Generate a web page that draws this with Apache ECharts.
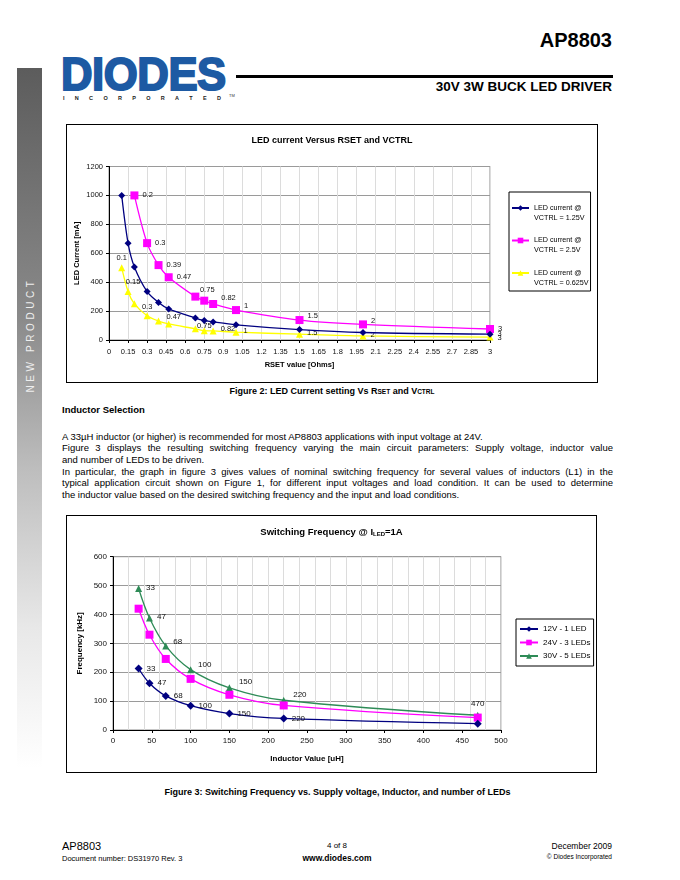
<!DOCTYPE html>
<html><head><meta charset="utf-8">
<script src="https://cdn.jsdelivr.net/npm/echarts@6/dist/echarts.min.js"></script>
<style>
body{margin:0;background:#fff;font-family:'Liberation Sans',Arial,sans-serif;color:#000;}
#page{position:relative;width:680px;height:880px;overflow:hidden;background:#fff;}
.abs{position:absolute;white-space:nowrap;}
.frame{position:absolute;border:1px solid #000;box-sizing:border-box;}
.line{position:absolute;left:62px;width:551px;white-space:nowrap;font-size:9.5px;line-height:11.6px;height:11.6px;}
.just{text-align:justify;text-align-last:justify;}
</style></head><body>
<div id="page">
  <!-- side bar -->
  <div class="abs" style="left:17px;top:68px;width:25px;height:812px;background:linear-gradient(#5c5c5c 0px,#8a8a8a 250px,#bdbdbd 400px,#e8e8e8 560px,#ffffff 700px);"></div>
  <div class="abs" style="left:30px;top:335px;transform:translate(-50%,-50%) rotate(-90deg);color:#eeeeee;font-size:10px;letter-spacing:3.6px;">NEW PRODUCT</div>

  <!-- logo -->
  <div class="abs" style="left:61px;top:46px;font-size:47px;font-weight:bold;color:#1d5aa3;transform-origin:0 0;transform:scaleX(0.93);letter-spacing:-0.5px;line-height:56px;-webkit-text-stroke:2px #1d5aa3;">DIODES</div>
  <div class="abs" style="left:63px;top:95px;width:158px;display:flex;justify-content:space-between;font-size:5.5px;font-weight:bold;color:#222;"><span>I</span><span>N</span><span>C</span><span>O</span><span>R</span><span>P</span><span>O</span><span>R</span><span>A</span><span>T</span><span>E</span><span>D</span></div>
  <div class="abs" style="left:229px;top:93px;font-size:4px;color:#333;">TM</div>

  <!-- header -->
  <div class="abs" style="right:68px;top:28px;font-size:20px;font-weight:bold;line-height:24px;">AP8803</div>
  <div class="abs" style="left:236px;top:75px;width:377px;height:3px;background:#000;"></div>
  <div class="abs" style="right:68px;top:79px;font-size:13.5px;font-weight:bold;line-height:16px;">30V 3W BUCK LED DRIVER</div>

  <!-- chart 1 -->
  <div class="frame" style="left:66px;top:124px;width:532px;height:259px;"></div>
  <div id="c1" class="abs" style="left:67px;top:125px;width:530px;height:257px;"></div>
  <div class="abs" style="left:332px;top:391px;transform:translate(-50%,-50%);font-size:9px;font-weight:bold;">Figure 2: LED Current setting Vs R<span style="font-size:6.5px">SET</span> and V<span style="font-size:6.5px">CTRL</span></div>

  <div class="abs" style="left:62px;top:404px;font-size:9.5px;font-weight:bold;line-height:12px;">Inductor Selection</div>
  <div class="line" style="top:430.7px;">A 33µH inductor (or higher) is recommended for most AP8803 applications with input voltage at 24V.</div>
  <div class="line just" style="top:442.3px;">Figure 3 displays the resulting switching frequency varying the main circuit parameters: Supply voltage, inductor value</div>
  <div class="line" style="top:453.9px;">and number of LEDs to be driven.</div>
  <div class="line just" style="top:465.5px;">In particular, the graph in figure 3 gives values of nominal switching frequency for several values of inductors (L1) in the</div>
  <div class="line just" style="top:477.1px;">typical application circuit shown on Figure 1, for different input voltages and load condition. It can be used to determine</div>
  <div class="line" style="top:488.7px;">the inductor value based on the desired switching frequency and the input and load conditions.</div>

  <!-- chart 2 -->
  <div class="frame" style="left:66px;top:515px;width:531px;height:258px;"></div>
  <div id="c2" class="abs" style="left:67px;top:516px;width:529px;height:256px;"></div>
  <div class="abs" style="left:337.5px;top:792px;transform:translate(-50%,-50%);font-size:9px;font-weight:bold;">Figure 3: Switching Frequency vs. Supply voltage, Inductor, and number of LEDs</div>

  <!-- footer -->
  <div class="abs" style="left:62px;top:839px;font-size:11px;line-height:14px;">AP8803</div>
  <div class="abs" style="left:62px;top:854px;font-size:7.5px;line-height:9px;">Document number: DS31970 Rev. 3</div>
  <div class="abs" style="left:337px;top:845px;transform:translate(-50%,-50%);font-size:8px;">4 of 8</div>
  <div class="abs" style="left:337px;top:858px;transform:translate(-50%,-50%);font-size:8.5px;font-weight:bold;">www.diodes.com</div>
  <div class="abs" style="right:68px;top:841px;font-size:8.5px;line-height:11px;">December 2009</div>
  <div class="abs" style="right:68px;top:853px;font-size:6.5px;line-height:8px;">© Diodes Incorporated</div>
</div>
<script>
// ---------- Chart 1 data: LED current vs RSET ----------
const rsetA = [0.1, 0.15, 0.2, 0.3, 0.39, 0.47, 0.68, 0.75, 0.82, 1, 1.5, 2, 3];
const rsetB = [0.2, 0.3, 0.39, 0.47, 0.68, 0.75, 0.82, 1, 1.5, 2, 3];
const ledNavy = [1000, 670, 505, 335, 260, 215, 152, 135, 125, 105, 72, 52, 40];
const ledPink = [1000, 670, 518, 434, 300, 272, 249, 207, 138, 108, 76];
const ledYellow = [500, 335, 250, 168, 131, 111, 77, 64, 63, 54, 40, 28, 20];
const lblNavy = ['', '', '', '', '', '', '', '', '', '', '', '', '3'];
const lblPink = ['0.2', '0.3', '0.39', '0.47', '', '0.75', '0.82', '1', '1.5', '2', '3'];
const lblYellow = ['0.1', '0.15', '', '0.3', '', '0.47', '', '0.75', '0.82', '1', '1.5', '2', '3'];
const names1 = ['LED current @ VCTRL = 1.25V', 'LED current @ VCTRL = 2.5V', 'LED current @ VCTRL = 0.625V'];
const yTicks1 = [0, 200, 400, 600, 800, 1000, 1200];

// ---------- Chart 2 data: switching frequency vs inductor ----------
const inductor = [33, 47, 68, 100, 150, 220, 470];
const f12V = [213, 162, 118, 84, 57, 40, 22];
const f24V = [420, 330, 246, 177, 122, 85, 43];
const f30V = [490, 388, 291, 209, 146, 103, 51];
const lbl12V = ['33', '47', '68', '100', '150', '220', ''];
const lbl30V = ['33', '47', '68', '100', '150', '220', '470'];
const names2 = ['12V - 1 LED', '24V - 3 LEDs', '30V - 5 LEDs'];

const FONT = "'Liberation Sans', Arial, sans-serif";

// label placement styles (kept apart from data)
const posPink = ['right','right','right','right','right','top','right','right','right','right','right'];
const offPink = [[0,0],[0,0],[0,0],[0,0],[0,0],[3,1],[0,-6],[0,-4],[0,-4],[0,-3],[0,0]];
const posYellow = ['top','top','top','top','top','top','top','top','right','right','right','right','right'];
const offYellow = [[0,2],[5,2],[0,0],[0,3],[0,0],[5,4],[0,0],[0,7],[0,-2],[0,-1],[0,-1],[0,-1],[0,1]];

function build(xs, ys, labels, pos, off, fs) {
  return xs.map((x, i) => {
    const t = labels ? labels[i] : '';
    return {
      value: [x, ys[i]],
      label: t ? {show: true, formatter: t, position: pos ? pos[i] : 'right', offset: off ? off[i] : [0, 0],
                  fontSize: fs, color: '#111', fontFamily: FONT, distance: 4} : {show: false}
    };
  });
}

const c1 = echarts.init(document.getElementById('c1'));
c1.setOption({
  animation: false,
  title: {text: 'LED current Versus RSET and VCTRL', left: 'center', top: 6,
          textStyle: {fontSize: 9, fontWeight: 'bold', fontFamily: FONT, color: '#000'}},
  grid: {left: 42, top: 41.5, width: 381, height: 173.5, show: true, borderColor: '#8c8c8c', borderWidth: 1,
         backgroundColor: '#fff', containLabel: false, outerBoundsMode: 'none'},
  legend: {
    orient: 'vertical', left: 442, top: 67, padding: [1, 2, 3, 2], itemGap: 2.5,
    itemWidth: 17, itemHeight: 7, borderColor: '#000', borderWidth: 1,
    textStyle: {fontSize: 7.2, lineHeight: 10, color: '#000', fontFamily: FONT},
    formatter: n => ' \n' + n.replace(' VCTRL', '\nVCTRL'),
    data: names1
  },
  xAxis: {
    type: 'value', min: 0, max: 3, interval: 0.15,
    name: 'RSET value [Ohms]', nameLocation: 'middle', nameGap: 21,
    nameTextStyle: {fontSize: 7.5, fontWeight: 'bold', fontFamily: FONT, color: '#000'},
    axisLine: {lineStyle: {color: '#000', width: 1}},
    axisTick: {show: true, length: 3, lineStyle: {color: '#000'}},
    axisLabel: {fontSize: 7.5, color: '#111', fontFamily: FONT, margin: 8, formatter: v => String(Math.round(v * 100) / 100)},
    splitLine: {show: true, lineStyle: {color: '#dcdcdc', width: 1}}
  },
  yAxis: {
    type: 'value', min: 0, max: 1200, interval: 200,
    name: 'LED Current [mA]', nameLocation: 'middle', nameGap: 28, nameMoveOverlap: false,
    nameTextStyle: {fontSize: 7.5, fontWeight: 'bold', fontFamily: FONT, color: '#000'},
    axisLine: {show: true, lineStyle: {color: '#000', width: 1}},
    axisTick: {show: true, length: 3, lineStyle: {color: '#000'}},
    axisLabel: {fontSize: 7.5, color: '#111', fontFamily: FONT, margin: 6, formatter: v => yTicks1.includes(v) ? String(v) : ''},
    splitLine: {show: true, lineStyle: {color: '#9a9a9a', width: 1}}
  },
  series: [
    {name: names1[0], type: 'line', smooth: 0.3, symbol: 'diamond', symbolSize: 7,
     itemStyle: {color: '#000080'}, lineStyle: {color: '#000080', width: 1.3},
     data: build(rsetA, ledNavy, lblNavy, null, null, 7.5), z: 3},
    {name: names1[1], type: 'line', smooth: 0.3, symbol: 'rect', symbolSize: 8,
     itemStyle: {color: '#ff00ff'}, lineStyle: {color: '#ff00ff', width: 1.3},
     data: build(rsetB, ledPink, lblPink, posPink, offPink, 7.5), z: 2},
    {name: names1[2], type: 'line', smooth: 0.3, symbol: 'triangle', symbolSize: 7,
     itemStyle: {color: '#ffff00'}, lineStyle: {color: '#ffff00', width: 1.3},
     data: build(rsetA, ledYellow, lblYellow, posYellow, offYellow, 7.5), z: 1}
  ]
});

const c2 = echarts.init(document.getElementById('c2'));
c2.setOption({
  animation: false,
  title: {text: 'Switching Frequency @ I{s|LED}=1A', left: 'center', top: 6,
          textStyle: {fontSize: 9.5, fontWeight: 'bold', fontFamily: FONT, color: '#000',
                      rich: {s: {fontSize: 6, fontWeight: 'bold', fontFamily: FONT, color: '#000', verticalAlign: 'bottom', padding: [3, 0, 0, 0]}}}},
  grid: {left: 46, top: 40.7, width: 388, height: 173.3, show: true, borderColor: '#8c8c8c', borderWidth: 1,
         backgroundColor: '#fff', containLabel: false, outerBoundsMode: 'none'},
  legend: {
    orient: 'vertical', left: 449, top: 103, padding: [6, 3, 6, 3], itemGap: 5.5,
    itemWidth: 18, itemHeight: 7, borderColor: '#000', borderWidth: 1,
    textStyle: {fontSize: 8, color: '#000', fontFamily: FONT},
    data: names2
  },
  xAxis: [{
    type: 'value', min: 0, max: 500, interval: 50,
    name: 'Inductor Value [uH]', nameLocation: 'middle', nameGap: 25,
    nameTextStyle: {fontSize: 8, fontWeight: 'bold', fontFamily: FONT, color: '#000'},
    axisLine: {lineStyle: {color: '#000', width: 1}},
    axisTick: {show: true, length: 3, lineStyle: {color: '#000'}},
    axisLabel: {fontSize: 8, color: '#111', fontFamily: FONT, margin: 7},
    splitLine: {show: false}
  }, {
    type: 'value', min: 0, max: 500, interval: 20, position: 'top',
    axisLine: {show: false}, axisTick: {show: false}, axisLabel: {show: false},
    splitLine: {show: true, lineStyle: {color: '#dcdcdc', width: 1}}
  }],
  yAxis: {
    type: 'value', min: 0, max: 600, interval: 100,
    name: 'Frequency [kHz]', nameLocation: 'middle', nameGap: 29, nameMoveOverlap: false,
    nameTextStyle: {fontSize: 8, fontWeight: 'bold', fontFamily: FONT, color: '#000'},
    axisLine: {show: true, lineStyle: {color: '#000', width: 1}},
    axisTick: {show: true, length: 3, lineStyle: {color: '#000'}},
    axisLabel: {fontSize: 8, color: '#111', fontFamily: FONT, margin: 6},
    splitLine: {show: true, lineStyle: {color: '#9a9a9a', width: 1}}
  },
  series: [
    {name: names2[0], type: 'line', smooth: 0.35, symbol: 'diamond', symbolSize: 8,
     itemStyle: {color: '#000080'}, lineStyle: {color: '#000080', width: 1.3},
     data: build(inductor, f12V, lbl12V, null, null, 8), z: 3},
    {name: names2[1], type: 'line', smooth: 0.35, symbol: 'rect', symbolSize: 8,
     itemStyle: {color: '#ff00ff'}, lineStyle: {color: '#ff00ff', width: 1.3},
     data: build(inductor, f24V, null, null, null, 8), z: 2},
    {name: names2[2], type: 'line', smooth: 0.35, symbol: 'triangle', symbolSize: 7,
     itemStyle: {color: '#2e8b57'}, lineStyle: {color: '#2e8b57', width: 1.3},
     data: build(inductor, f30V, lbl30V, ['right','right','right','right','right','right','top'],
                 [[0,-1],[0,-1],[0,-4],[0,-5],[2,-6],[2,-5],[0,0]], 8), z: 1}
  ]
});
</script>
</body></html>
